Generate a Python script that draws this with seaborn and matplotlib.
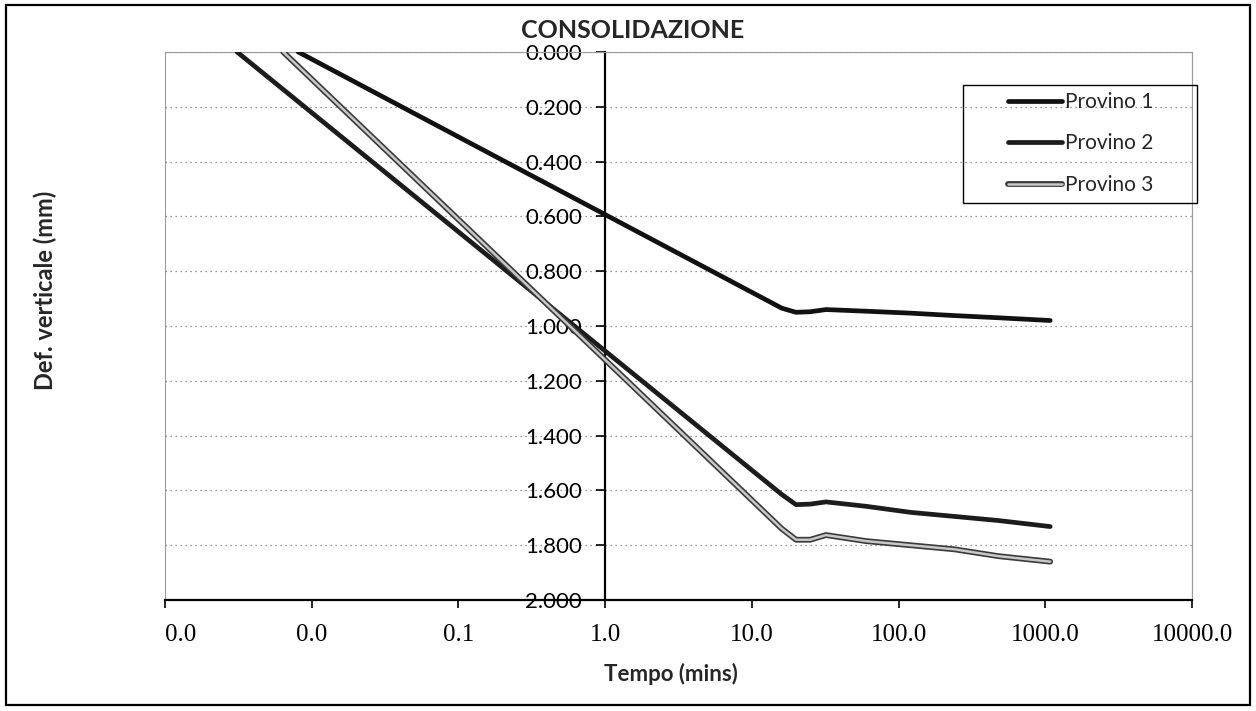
import matplotlib.pyplot as plt
import matplotlib.patheffects as pe
import matplotlib.lines as mlines
import matplotlib.patches as mpatches
import matplotlib.ticker as mticker
import seaborn as sns

# tempo (mins) and vertical deformation (mm)
tempo_1 = [0.0081, 16, 20, 25, 32, 60, 120, 240, 480, 1080]
def_1 = [0.000, 0.935, 0.950, 0.948, 0.940, 0.946, 0.953, 0.962, 0.970, 0.980]

tempo_2 = [0.0031, 16, 20, 25, 32, 60, 120, 240, 480, 1080]
def_2 = [0.000, 1.615, 1.652, 1.650, 1.642, 1.658, 1.680, 1.695, 1.710, 1.732]

tempo_3 = [0.0064, 16, 20, 25, 32, 60, 120, 240, 480, 1080]
def_3 = [0.000, 1.740, 1.780, 1.780, 1.763, 1.785, 1.800, 1.815, 1.840, 1.860]

labels = ["Provino 1", "Provino 2", "Provino 3"]
x_ticks = [0.001, 0.01, 0.1, 1, 10, 100, 1000, 10000]
y_ticks = [0.0, 0.2, 0.4, 0.6, 0.8, 1.0, 1.2, 1.4, 1.6, 1.8, 2.0]

sns.set_theme(style="white")
plt.rcParams["font.family"] = ["Lato", "DejaVu Sans"]

W, H = 1256, 711
fig = plt.figure(figsize=(W / 100, H / 100), dpi=100)
ax = fig.add_axes([165 / W, 1 - 600 / H, 1027 / W, 548 / H])

p3 = [pe.Stroke(linewidth=4.2, foreground="#3a3a3a"), pe.Stroke(linewidth=1.8, foreground="#c8c8c8")]

sns.lineplot(x=tempo_1, y=def_1, ax=ax, color="#111111", lw=3.4, sort=False, zorder=5)
sns.lineplot(x=tempo_2, y=def_2, ax=ax, color="#1c1c1c", lw=3.4, sort=False, zorder=5)
sns.lineplot(x=tempo_3, y=def_3, ax=ax, color="#999999", lw=3.6, sort=False, zorder=5)
ax.lines[-1].set_path_effects(p3)

ax.set_xscale("log")
ax.set_xlim(0.001, 10000)
ax.set_ylim(2.0, 0.0)

ax.set_xticks(x_ticks)
ax.xaxis.set_major_formatter(mticker.FormatStrFormatter("%.1f"))
ax.xaxis.set_minor_locator(mticker.NullLocator())
ax.set_yticks(y_ticks)
ax.yaxis.set_major_formatter(mticker.FormatStrFormatter("%.3f"))

ax.tick_params(axis="x", direction="out", length=6, width=1.2, pad=11, labelsize=18,
               bottom=True, colors="black")
ax.tick_params(axis="y", direction="out", length=6.5, width=1.2, pad=10, labelsize=16,
               left=True, colors="black")
for t in ax.get_xticklabels():
    t.set_family(["Liberation Serif", "DejaVu Serif"])
ax.get_xticklabels()[0].set_ha("left")

ax.yaxis.grid(True, ls=(0, (1, 3)), color="#777777", lw=0.9)
ax.xaxis.grid(False)

ax.spines["left"].set_position(("data", 1))
ax.spines["left"].set_color("black")
ax.spines["left"].set_linewidth(1.6)
ax.spines["bottom"].set_color("black")
ax.spines["bottom"].set_linewidth(1.6)
for s in ["top", "right"]:
    ax.spines[s].set_color("#9a9a9a")
    ax.spines[s].set_linewidth(0.8)
ax.add_patch(mpatches.Rectangle((0, 0), 1, 1, transform=ax.transAxes, fill=False,
                                ec="#9a9a9a", lw=0.8, zorder=0))

ax.set_xlabel("")
ax.set_ylabel("")

fig.text(633 / W, 1 - 30 / H, "CONSOLIDAZIONE", ha="center", va="center",
         fontsize=18, fontweight="bold")
fig.text(671 / W, 1 - 674 / H, "Tempo (mins)", ha="center", va="center",
         fontsize=16, fontweight="bold")
fig.text(45 / W, 1 - 290 / H, "Def. verticale (mm)", ha="center", va="center",
         rotation=90, fontsize=17, fontweight="bold")

h1 = mlines.Line2D([], [], color="#111111", lw=3.4)
h2 = mlines.Line2D([], [], color="#1c1c1c", lw=3.4)
h3 = mlines.Line2D([], [], color="#999999", lw=3.6, path_effects=p3)
fig.legend(handles=[h1, h2, h3], labels=labels, loc="upper left",
           bbox_to_anchor=(1008 / W, 1 - 92 / H), frameon=False, fontsize=15,
           handlelength=2.6, handletextpad=0.15, labelspacing=1.03,
           borderpad=0, borderaxespad=0)
fig.patches.append(mpatches.Rectangle((963 / W, 1 - 203 / H), 234 / W, 118 / H,
                                      transform=fig.transFigure, fill=False,
                                      ec="black", lw=1.0))
fig.patches.append(mpatches.Rectangle((6 / W, 1 - 705 / H), 1244 / W, 700 / H,
                                      transform=fig.transFigure, fill=False,
                                      ec="black", lw=1.6))

fig.savefig("out.png", dpi=100)
